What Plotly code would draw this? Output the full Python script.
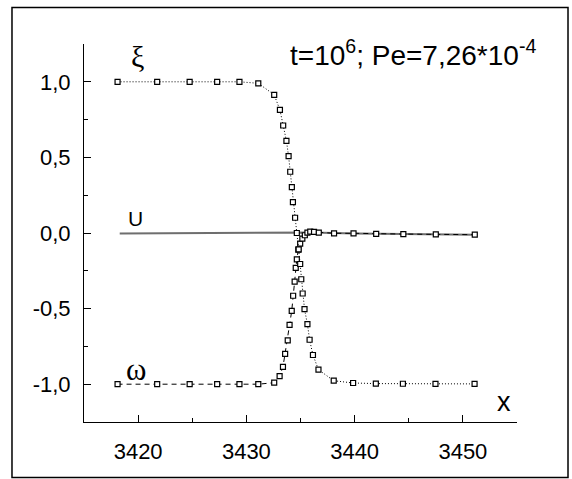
import plotly.graph_objects as go

# xi (dotted) : 1 -> -1
xi_x = [3418.1, 3421.76, 3424.76, 3427.3, 3429.36, 3431.1, 3432.57, 3433.1, 3433.4, 3433.7,
        3433.9, 3434.05, 3434.2, 3434.3, 3434.5, 3434.66, 3434.83, 3434.97, 3435.07, 3435.2,
        3435.37, 3435.64, 3435.84, 3436.15, 3436.66, 3438.07, 3439.86, 3441.96, 3444.46,
        3447.47, 3451.08]
xi_y = [1.0, 1.0, 1.0, 1.0, 1.0, 0.99, 0.914, 0.814, 0.711, 0.609,
        0.508, 0.405, 0.304, 0.204, 0.101, 0.0, -0.108, -0.205, -0.306, -0.40,
        -0.504, -0.603, -0.706, -0.807, -0.904, -0.977, -0.992, -0.996, -0.997,
        -0.998, -0.998]

# omega (dashed) : -1 -> 0
om_x = [3418.1, 3421.76, 3424.76, 3427.3, 3429.36, 3431.1, 3432.57, 3433.07, 3433.38, 3433.58,
        3433.82, 3433.99, 3434.19, 3434.32, 3434.46, 3434.56, 3434.66, 3434.8, 3434.97, 3435.17,
        3435.4, 3435.64, 3435.9, 3436.25, 3436.69, 3438.1, 3439.9, 3441.99, 3444.5, 3447.5,
        3451.1]
om_y = [-1.0, -1.0, -1.0, -1.0, -1.0, -1.0, -0.99, -0.946, -0.886, -0.80,
        -0.71, -0.607, -0.515, -0.415, -0.322, -0.23, -0.174, -0.11, -0.07, -0.037,
        -0.015, 0.002, 0.009, 0.007, 0.002, -0.002, -0.002, -0.006, -0.007, -0.009,
        -0.011]

# U (solid)
u_x = [3418.3, 3425.0, 3430.0, 3433.0, 3434.5, 3436.0, 3440.0, 3445.0, 3451.1]
u_y = [-0.004, -0.003, -0.002, 0.0, 0.002, 0.003, -0.003, -0.007, -0.011]

y_ticks = [-1.0, -0.5, 0.0, 0.5, 1.0]
y_ticklabels = ["-1,0", "-0,5", "0,0", "0,5", "1,0"]
x_ticks = [3420, 3430, 3440, 3450]
x_ticklabels = ["3420", "3430", "3440", "3450"]

fig = go.Figure()
fig.add_trace(go.Scatter(x=u_x, y=u_y, mode="lines",
                         line=dict(color="#6e6e6e", width=2), showlegend=False))
fig.add_trace(go.Scatter(x=om_x, y=om_y, mode="lines+markers",
                         line=dict(color="black", width=1, dash="5px,4px"),
                         marker=dict(symbol="square", size=5, color="white",
                                     line=dict(color="black", width=1.2)),
                         showlegend=False))
fig.add_trace(go.Scatter(x=xi_x, y=xi_y, mode="lines+markers",
                         line=dict(color="black", width=1, dash="1px,2px"),
                         marker=dict(symbol="square", size=5, color="white",
                                     line=dict(color="black", width=1.2)),
                         showlegend=False))

fig.update_layout(
    width=572, height=479, autosize=False,
    margin=dict(l=84, r=55, t=44, b=57),
    paper_bgcolor="white", plot_bgcolor="white",
    font=dict(family="Liberation Sans, Arial, sans-serif", color="black", size=22),
)
fig.update_xaxes(range=[3415, 3455], showgrid=False, zeroline=False,
                 showline=True, linecolor="black", linewidth=1,
                 ticks="inside", ticklen=7, tickwidth=1, tickcolor="black",
                 tickvals=x_ticks, ticktext=x_ticklabels,
                 tickfont=dict(size=22), ticklabelstandoff=10,
                 minor=dict(ticks="inside", ticklen=4, tickwidth=1, tickcolor="black",
                            tickvals=[3425, 3435, 3445, 3455]))
fig.update_yaxes(range=[-1.25, 1.25], showgrid=False, zeroline=False,
                 showline=True, linecolor="black", linewidth=1,
                 ticks="inside", ticklen=7, tickwidth=1, tickcolor="black",
                 tickvals=y_ticks, ticktext=y_ticklabels,
                 tickfont=dict(size=22), ticklabelstandoff=8,
                 minor=dict(ticks="inside", ticklen=4, tickwidth=1, tickcolor="black",
                            tickvals=[-1.25, -0.75, -0.25, 0.25, 0.75, 1.25]))

fig.add_shape(type="rect", xref="paper", yref="paper",
              x0=-0.1663, x1=1.1178, y0=-0.1466, y1=1.0968,
              line=dict(color="black", width=1.5), fillcolor="rgba(0,0,0,0)")

ann = dict(showarrow=False, xref="x", yref="y", xanchor="center", yanchor="middle")
fig.add_annotation(x=3419.9, y=1.17, text="ξ",
                   font=dict(family="Liberation Serif, serif", size=30), **ann)
fig.add_annotation(x=3419.8, y=0.095, text="U", font=dict(size=21), **ann)
fig.add_annotation(x=3419.8, y=-0.90, text="ω",
                   font=dict(family="Liberation Serif, serif", size=31), **ann)
fig.add_annotation(x=3453.8, y=-1.12, text="x", font=dict(size=27), **ann)
fig.add_annotation(x=3445.4, y=1.19, text="t=10<sup>6</sup>; Pe=7,26*10<sup>-4</sup>",
                   font=dict(size=28), **ann)

fig.write_html("out.html")
